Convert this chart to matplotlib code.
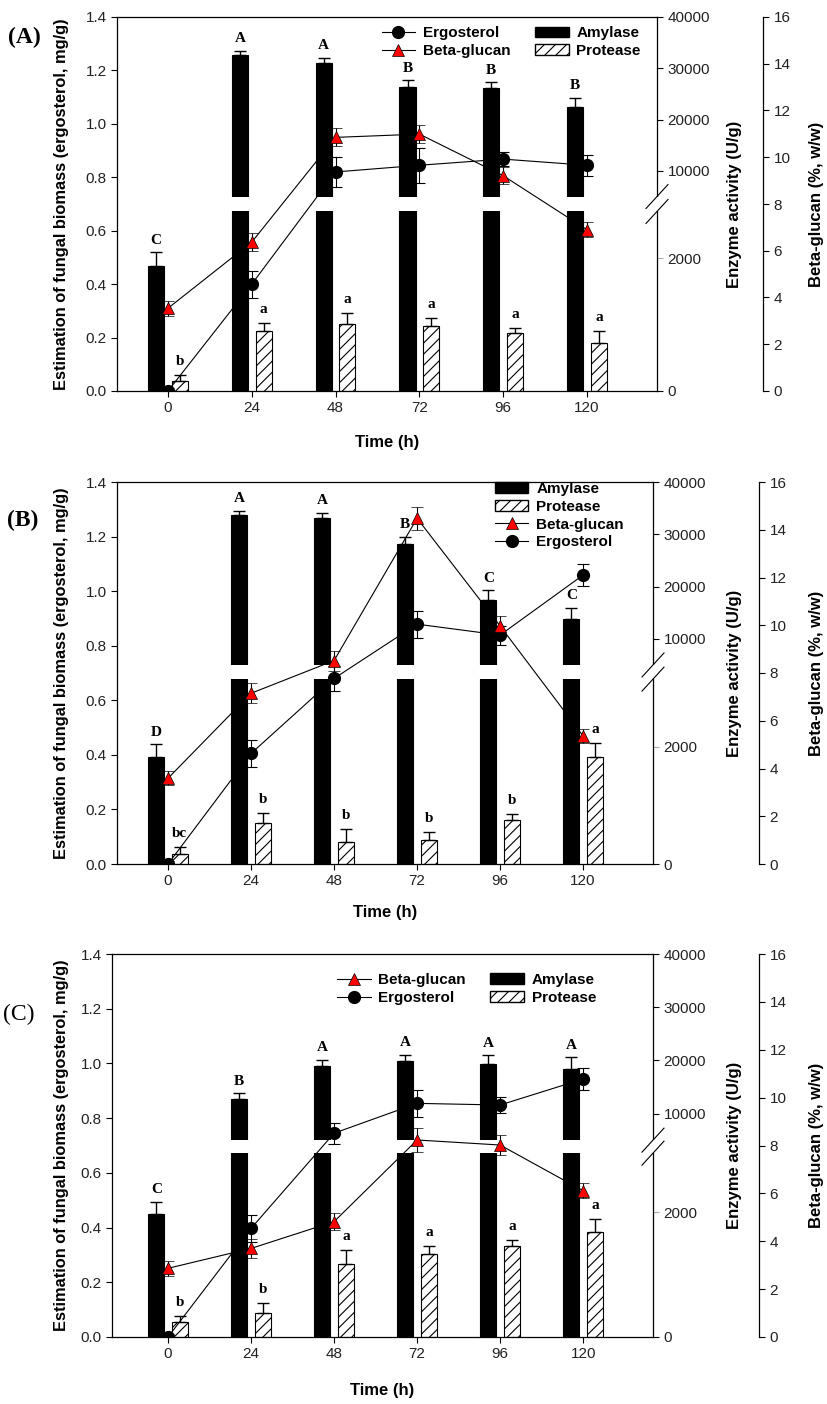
import numpy as np
import matplotlib
matplotlib.use("Agg")
import matplotlib.pyplot as plt
from matplotlib.lines import Line2D
from matplotlib.patches import Patch
from matplotlib.ticker import FormatStrFormatter

plt.rcParams["font.family"] = ["Liberation Sans", "DejaVu Sans"]
plt.rcParams["font.size"] = 10
plt.rcParams["hatch.linewidth"] = 0.8
plt.rcParams["xtick.direction"] = "out"
plt.rcParams["ytick.direction"] = "out"
plt.rcParams["xtick.major.size"] = 4
plt.rcParams["ytick.major.size"] = 4

times = [0, 24, 48, 72, 96, 120]

# (A)
erg_a = [0.00, 0.40, 0.82, 0.845, 0.868, 0.845]
erg_a_err = [0.01, 0.05, 0.055, 0.065, 0.026, 0.04]
bg_a = [3.54, 6.37, 10.85, 10.99, 9.21, 6.90]
bg_a_err = [0.32, 0.39, 0.39, 0.40, 0.36, 0.32]
amy_a = [1884, 32580, 31100, 26400, 26080, 22500]
amy_a_err = [200, 860, 1000, 1300, 1200, 1800]
pro_a = [150, 907, 1008, 978, 868, 717]
pro_a_err = [90, 120, 170, 115, 85, 185]
amy_a_letters = ["C", "A", "A", "B", "B", "B"]
pro_a_letters = ["b", "a", "a", "a", "a", "a"]

# (B)
erg_b = [0.00, 0.405, 0.68, 0.879, 0.839, 1.059]
erg_b_err = [0.01, 0.05, 0.045, 0.05, 0.035, 0.04]
bg_b = [3.59, 7.15, 8.52, 14.48, 9.97, 5.36]
bg_b_err = [0.30, 0.42, 0.42, 0.49, 0.40, 0.30]
amy_b = [1828, 33700, 33070, 28100, 17470, 13800]
amy_b_err = [215, 770, 1070, 1450, 1780, 2100]
pro_b = [165, 704, 380, 409, 750, 1818]
pro_b_err = [120, 170, 211, 140, 97, 240]
amy_b_letters = ["D", "A", "A", "B", "C", "C"]
pro_b_letters = ["bc", "b", "b", "b", "b", "a"]

# (C)
erg_c = [0.00, 0.397, 0.745, 0.854, 0.848, 0.943]
erg_c_err = [0.01, 0.049, 0.039, 0.049, 0.028, 0.041]
bg_c = [2.87, 3.70, 4.82, 8.23, 8.02, 6.11]
bg_c_err = [0.31, 0.40, 0.37, 0.50, 0.40, 0.32]
amy_c = [1969, 12735, 19000, 19880, 19260, 18370]
amy_c_err = [200, 1050, 1070, 1130, 1700, 2200]
pro_c = [236, 390, 1172, 1327, 1466, 1690]
pro_c_err = [100, 150, 225, 140, 90, 200]
amy_c_letters = ["C", "B", "A", "A", "A", "A"]
pro_c_letters = ["b", "b", "a", "a", "a", "a"]

W, H = 827, 1404
fig = plt.figure(figsize=(W / 100, H / 100), dpi=100)

LBL = "#222222"


def make_handles():
    return {
        "Ergosterol": Line2D([], [], color="black", lw=0.8, marker="o", ms=8.5),
        "Beta-glucan": Line2D([], [], color="black", lw=0.8, marker="^", ms=8.5,
                              mfc="red", mec="black", mew=0.5),
        "Amylase": Patch(facecolor="black", edgecolor="black"),
        "Protease": Patch(facecolor="white", edgecolor="black", hatch="///"),
    }


def draw_panel(box, xlim, brk, erg, erg_err, bg, bg_err, amy, amy_err, pro, pro_err,
               amy_lab, pro_lab, order, ncol, anchor, tag, tag_bold, tag_xy, time_y):
    l, t, r, b = box
    ax = fig.add_axes([l / W, 1 - b / H, (r - l) / W, (b - t) / H])
    ax_enz = ax.twinx()
    ax_bg = ax.twinx()
    ax_enz.set_zorder(1)
    ax.set_zorder(2)
    ax_bg.set_zorder(3)
    ax.patch.set_visible(False)

    # broken enzyme axis: lower segment 0..low_top, upper segment 5000..40000
    low_top, lo_f, hi_f = brk
    xs = [0, low_top, 5000, 40000]
    fs = [0, lo_f, hi_f, 1]
    ax_enz.set_yscale("function", functions=(lambda v: np.interp(v, xs, fs),
                                              lambda f: np.interp(f, fs, xs)))

    tt = np.array(times, dtype=float)
    zeros = np.zeros(len(tt))
    ekw = dict(elinewidth=1, capthick=1, ecolor="black")
    ax_enz.bar(tt - 3.4, amy, width=4.6, color="black", edgecolor="black", lw=0.8,
               yerr=[zeros, amy_err], capsize=4, error_kw=ekw)
    ax_enz.bar(tt + 3.4, pro, width=4.6, color="white", edgecolor="black", lw=0.8,
               hatch="///", yerr=[zeros, pro_err], capsize=4, error_kw=ekw)
    ax_enz.axhspan(low_top, 5000, color="white", lw=0, zorder=2.2)
    ax_enz.set_ylim(0, 40000)
    ax_enz.set_yticks([0, 2000, 10000, 20000, 30000, 40000])
    ax_enz.yaxis.set_major_formatter(FormatStrFormatter("%d"))

    for x, v, e, s in zip(tt - 3.4, amy, amy_err, amy_lab):
        ax_enz.annotate(s, (x, v + e), xytext=(0, 4), textcoords="offset points",
                        ha="center", va="bottom", fontfamily="Liberation Serif",
                        fontweight="bold", fontsize=11)
    for x, v, e, s in zip(tt + 3.4, pro, pro_err, pro_lab):
        ax_enz.annotate(s, (x, v + e), xytext=(0, 5), textcoords="offset points",
                        ha="center", va="bottom", fontfamily="Liberation Serif",
                        fontweight="bold", fontsize=11)

    ax.errorbar(tt, erg, yerr=erg_err, color="black", lw=0.8, marker="o", ms=8.5,
                capsize=4, elinewidth=0.8, capthick=0.8)
    ax_bg.errorbar(tt, bg, yerr=bg_err, color="black", lw=0.8, marker="^", ms=8.5,
                   mfc="red", mec="black", mew=0.5, capsize=4, elinewidth=0.8,
                   capthick=0.8)

    ax.set_xlim(*xlim)
    ax.set_xticks(times)
    ax.set_ylim(0, 1.4)
    ax.set_yticks(np.arange(0, 1.41, 0.2))
    ax.yaxis.set_major_formatter(FormatStrFormatter("%.1f"))
    ax_bg.set_ylim(0, 16)
    ax_bg.set_yticks(range(0, 17, 2))

    ax.spines["right"].set_visible(False)
    for side in ("left", "top", "bottom"):
        ax_enz.spines[side].set_visible(False)
        ax_bg.spines[side].set_visible(False)
    ax_bg.spines["right"].set_position(("outward", 106 * 0.72))
    for a in (ax, ax_enz, ax_bg):
        a.tick_params(labelcolor=LBL, labelsize=11, width=0.8)
        for s in a.spines.values():
            s.set_linewidth(0.9)
    ax_enz.yaxis.get_major_ticks()[1].tick2line.set_markeredgecolor("#aaaaaa")

    # axis break marks on the right spine
    bw = 11 / (r - l)
    bh = 12 / (b - t)
    ax_enz.plot([1, 1], [lo_f, hi_f], transform=ax_enz.transAxes, color="white",
                lw=3, clip_on=False, zorder=5, solid_capstyle="butt")
    for f in (lo_f, hi_f):
        ax_enz.plot([1 - bw, 1 + bw], [f - bh, f + bh], transform=ax_enz.transAxes,
                    color="black", lw=0.8, clip_on=False, zorder=6)

    hd = make_handles()
    ax_bg.legend([hd[k] for k in order], order, loc="upper left", bbox_to_anchor=anchor,
                 ncol=ncol, frameon=False, borderpad=0, borderaxespad=0,
                 handlelength=2.2, handletextpad=0.5, columnspacing=1.6,
                 labelspacing=0.25, prop=dict(weight="bold", size=11))

    yc = 1 - (t + b) / 2 / H
    fig.text(62 / W, yc, "Estimation of fungal biomass (ergosterol, mg/g)", rotation=90,
             ha="center", va="center", fontweight="bold", fontsize=11.8)
    fig.text(735 / W, yc, "Enzyme activity (U/g)", rotation=90, ha="center",
             va="center", fontweight="bold", fontsize=12)
    fig.text(817 / W, yc, "Beta-glucan (%, w/w)", rotation=90, ha="center",
             va="center", fontweight="bold", fontsize=12)
    fig.text((l + r) / 2 / W, 1 - time_y / H, "Time (h)", ha="center", va="center",
             fontweight="bold", fontsize=12)
    fig.text(tag_xy[0] / W, 1 - tag_xy[1] / H, tag, ha="center", va="center",
             fontfamily="Liberation Serif", fontsize=17,
             fontweight="bold" if tag_bold else "normal")


draw_panel((117, 17, 657, 391), (-14.6, 140.05), (2700, 0.48, 0.52),
           erg_a, erg_a_err, bg_a, bg_a_err, amy_a, amy_a_err, pro_a, pro_a_err,
           amy_a_letters, pro_a_letters,
           ["Ergosterol", "Beta-glucan", "Amylase", "Protease"], 2, (0.49, 0.975),
           "(A)", True, (24, 37), 442)
draw_panel((117, 482, 653, 864), (-14.75, 140.2), (3150, 0.484, 0.521),
           erg_b, erg_b_err, bg_b, bg_b_err, amy_b, amy_b_err, pro_b, pro_b_err,
           amy_b_letters, pro_b_letters,
           ["Amylase", "Protease", "Beta-glucan", "Ergosterol"], 1, (0.705, 1.0),
           "(B)", True, (23, 520), 912)
draw_panel((112, 954, 653, 1337), (-16.2, 140.2), (2950, 0.48, 0.514),
           erg_c, erg_c_err, bg_c, bg_c_err, amy_c, amy_c_err, pro_c, pro_c_err,
           amy_c_letters, pro_c_letters,
           ["Beta-glucan", "Ergosterol", "Amylase", "Protease"], 2, (0.416, 0.95),
           "(C)", False, (19, 1014), 1390)

fig.savefig("out.png", dpi=100)
